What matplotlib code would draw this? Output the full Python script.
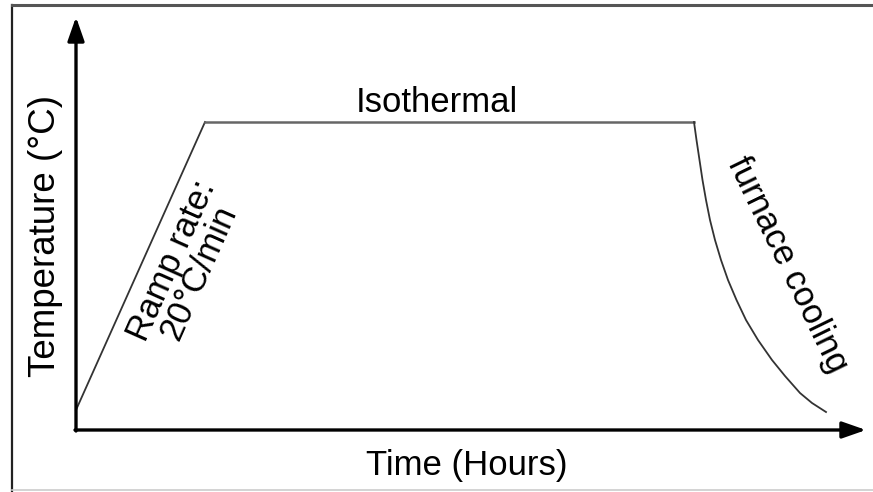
import numpy as np
import matplotlib
matplotlib.use('Agg')
import matplotlib.pyplot as plt
from matplotlib.lines import Line2D

plt.rcParams['font.family'] = ['Liberation Sans', 'DejaVu Sans']

# heating profile (arbitrary units: time along x, temperature along y)
ramp_time = [0, 129]
ramp_temp = [20, 308]
hold_time = [129, 618]
hold_temp = [308, 308]
cool_time = [618, 620.5, 623.5, 626.5, 630, 634, 639, 645, 652, 660.5,
             670, 682, 696, 709, 724, 736, 750]
cool_temp = [308, 290, 270, 250, 230, 210, 190, 170, 150, 130,
             110, 90, 70, 54, 37, 27, 18]

fig = plt.figure(figsize=(8.73, 4.92), dpi=100)
ax = fig.add_axes([0, 0, 1, 1])
ax.set_xlim(-76, 797)
ax.set_ylim(-62, 430)
ax.axis('off')

# outer frame
fig.add_artist(Line2D([12 / 873, 12 / 873], [0, 1 - 5 / 492], color='#222222', lw=1.6,
                      transform=fig.transFigure))
fig.add_artist(Line2D([12 / 873, 1], [1 - 5 / 492, 1 - 5 / 492], color='#555555', lw=2.2,
                      transform=fig.transFigure))
fig.add_artist(Line2D([12 / 873, 1], [2 / 492, 2 / 492], color='#cccccc', lw=1.2,
                      transform=fig.transFigure))

# axes arrows
arrow = dict(arrowstyle='-|>,head_length=0.8,head_width=0.28', lw=2.4, color='black',
             mutation_scale=18, shrinkA=0, shrinkB=0)
ax.annotate('', xy=(0, 413), xytext=(0, -1), arrowprops=arrow)
ax.annotate('', xy=(790, 0), xytext=(-1, 0), arrowprops=arrow)

# profile
ax.plot(ramp_time, ramp_temp, color='#333333', lw=1.3)
ax.plot(hold_time, hold_temp, color='#666666', lw=1.8)
ax.plot(cool_time, cool_temp, color='#333333', lw=1.3, solid_joinstyle='round')

# labels
ax.text(361, 318, 'Isothermal', fontsize=25, ha='center', va='baseline')
ax.text(391, -45, 'Time (Hours)', fontsize=25, ha='center', va='baseline')
ax.text(-31, 194, 'Temperature (°C)', fontsize=26.5, rotation=90,
        ha='center', va='center')
ax.text(109, 163, 'Ramp rate:\n20°C/min', fontsize=25, rotation=66,
        ha='center', va='center', rotation_mode='anchor', linespacing=0.85)
ax.text(712, 165, 'furnace cooling', fontsize=25, rotation=-64,
        ha='center', va='center', rotation_mode='anchor')

fig.savefig('out.png', dpi=100)
